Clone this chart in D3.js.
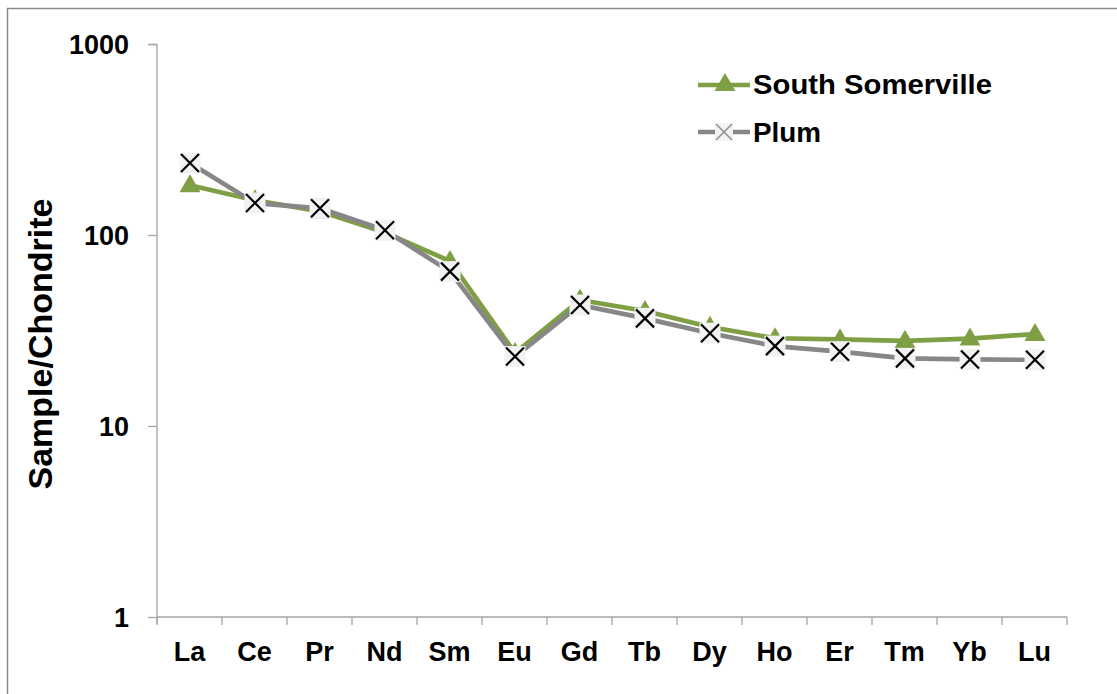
<!DOCTYPE html>
<html>
<head>
<meta charset="utf-8">
<script src="https://cdn.jsdelivr.net/npm/d3@7"></script>
<style>
  html, body { margin: 0; padding: 0; background: #fff; }
  svg { display: block; }
  text { font-family: "Liberation Sans", Arial, sans-serif; font-weight: bold; fill: #000; }
</style>
</head>
<body>
<svg id="chart" width="1117" height="694"></svg>
<script>
// Rare earth elements, chondrite-normalised
const elements = ["La","Ce","Pr","Nd","Sm","Eu","Gd","Tb","Dy","Ho","Er","Tm","Yb","Lu"];
const southSomerville = [182, 152, 133, 103, 73, 24.1, 45.7, 40.0, 33.0, 28.8, 28.4, 27.9, 28.7, 30.3];
const plum = [238, 147, 138, 106, 64.3, 23.1, 43.0, 36.6, 30.6, 26.2, 24.5, 22.6, 22.3, 22.2];
const yTicks = [1, 10, 100, 1000];
const seriesNames = ["South Somerville", "Plum"];

const green = "#7f9f45";
const grey = "#878787";
const axisGrey = "#a6a6a6";

const svg = d3.select("#chart");

// outer chart frame
svg.append("rect")
  .attr("x", 7.5).attr("y", 8.5)
  .attr("width", 1140).attr("height", 720)
  .attr("fill", "none").attr("stroke", "#8a8a8a").attr("stroke-width", 1.5);

const x = d3.scaleBand().domain(elements).range([157, 1067]).padding(0);
const y = d3.scaleLog().domain([1, 1000]).range([617, 44]);

// y axis
const yAxis = svg.append("g").attr("transform", "translate(157,0)")
  .call(d3.axisLeft(y).tickValues(yTicks).tickFormat(d3.format("d")).tickSize(9).tickPadding(19));
yAxis.select(".domain").attr("stroke", axisGrey).attr("stroke-width", 1.3)
  .attr("d", "M-9,44.5H0V624");
yAxis.selectAll(".tick line").attr("stroke", axisGrey).attr("stroke-width", 1.3);
yAxis.selectAll(".tick text").style("font-size", "27px").attr("dy", "0.36em");

// x axis with ticks on category boundaries
const xAxis = svg.append("g").attr("transform", "translate(0,617)");
xAxis.append("line").attr("x1", 157).attr("x2", 1067).attr("y1", 0).attr("y2", 0)
  .attr("stroke", axisGrey).attr("stroke-width", 1.3);
const bounds = elements.map(d => x(d)).concat([x.range()[1]]);
xAxis.selectAll("line.tk").data(bounds).join("line").attr("class", "tk")
  .attr("x1", d => d).attr("x2", d => d).attr("y1", 0).attr("y2", 8)
  .attr("stroke", axisGrey).attr("stroke-width", 1.3);
xAxis.selectAll("text").data(elements).join("text")
  .attr("x", d => x(d) + x.bandwidth() / 2).attr("y", 44)
  .attr("text-anchor", "middle").style("font-size", "27px")
  .text(d => d);

// y axis title
svg.append("text")
  .attr("transform", "translate(52,344) rotate(-90)")
  .attr("text-anchor", "middle").style("font-size", "34px")
  .text("Sample/Chondrite");

const cx = d => x(d) + x.bandwidth() / 2 + 0.5;
const line = d3.line().x(d => cx(d.el)).y(d => y(d.v)).curve(d3.curveLinear);

const tri = d3.symbol().type(d3.symbolTriangle).size(190);

function drawTriangle(g, px, py) {
  g.append("path").attr("d", tri()).attr("transform", `translate(${px},${py + 1})`)
    .attr("fill", green);
}
function drawCross(g, px, py, s, col, w, box) {
  g.append("rect").attr("x", px - box / 2).attr("y", py - box / 2)
    .attr("width", box).attr("height", box).attr("fill", "#f2f2f2");
  g.append("path")
    .attr("d", `M${px - s},${py - s}L${px + s},${py + s}M${px + s},${py - s}L${px - s},${py + s}`)
    .attr("stroke", col).attr("stroke-width", w).attr("fill", "none");
}

const ssData = elements.map((el, i) => ({ el, v: southSomerville[i] }));
const plData = elements.map((el, i) => ({ el, v: plum[i] }));

// South Somerville series
const gS = svg.append("g");
gS.append("path").datum(ssData).attr("d", line)
  .attr("fill", "none").attr("stroke", green).attr("stroke-width", 4.7)
  .attr("stroke-linejoin", "round").attr("stroke-linecap", "round");
ssData.forEach(d => drawTriangle(gS, cx(d.el), y(d.v)));

// Plum series
const gP = svg.append("g");
gP.append("path").datum(plData).attr("d", line)
  .attr("fill", "none").attr("stroke", grey).attr("stroke-width", 4.7)
  .attr("stroke-linejoin", "round").attr("stroke-linecap", "round");
plData.forEach(d => drawCross(gP, cx(d.el), y(d.v), 9, "#000", 2.2, 21));

// legend
const lg = svg.append("g");
lg.append("line").attr("x1", 698).attr("x2", 750).attr("y1", 85).attr("y2", 85)
  .attr("stroke", green).attr("stroke-width", 4.5);
drawTriangle(lg, 725, 84);
lg.append("text").attr("x", 753).attr("y", 94).style("font-size", "27.5px")
  .attr("textLength", 239).attr("lengthAdjust", "spacingAndGlyphs").text(seriesNames[0]);

lg.append("line").attr("x1", 698).attr("x2", 750).attr("y1", 132).attr("y2", 132)
  .attr("stroke", grey).attr("stroke-width", 4.5);
drawCross(lg, 724, 132, 8, "#8c8c8c", 1.5, 18);
lg.append("text").attr("x", 753).attr("y", 142).style("font-size", "27.5px")
  .attr("textLength", 68).attr("lengthAdjust", "spacingAndGlyphs").text(seriesNames[1]);
</script>
</body>
</html>
